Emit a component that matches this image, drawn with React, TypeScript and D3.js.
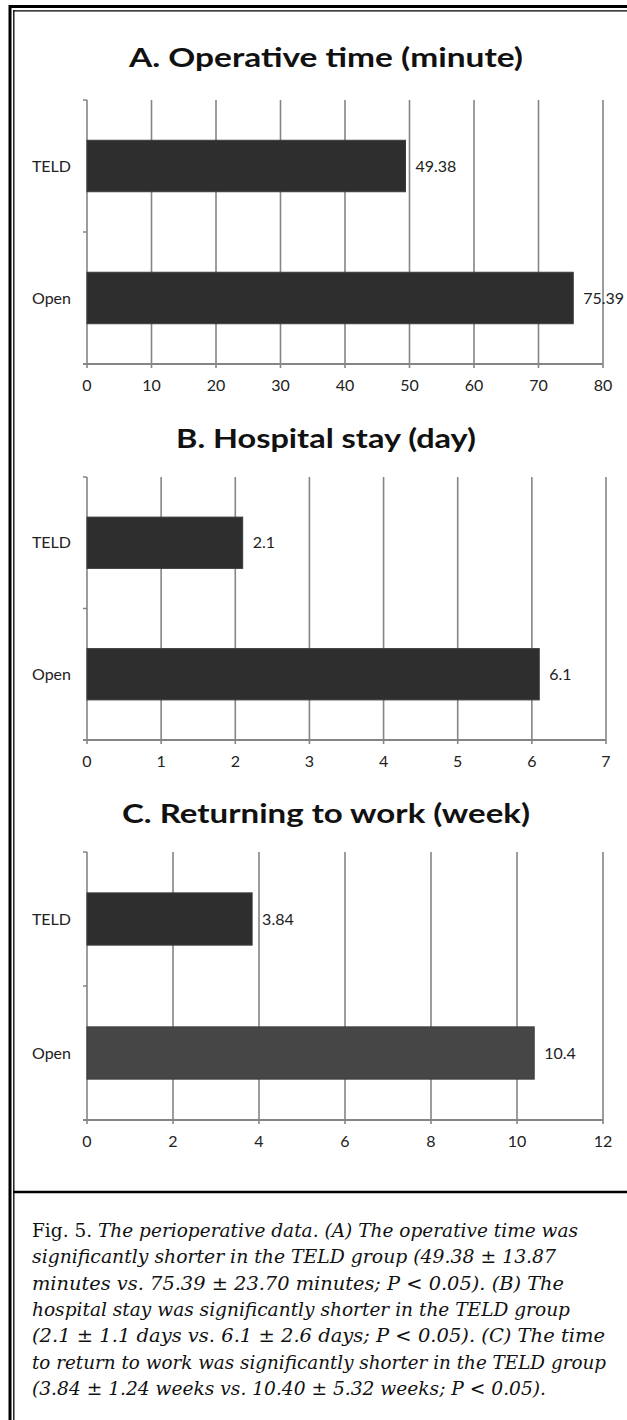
import React from "react";
import * as d3 from "d3";

const groups = ["TELD", "Open"];
const operativeTime = [49.38, 75.39];
const hospitalStay = [2.1, 6.1];
const returnToWork = [3.84, 10.4];
const labelsA = ["49.38", "75.39"];
const labelsB = ["2.1", "6.1"];
const labelsC = ["3.84", "10.4"];
const ticksA = [0, 10, 20, 30, 40, 50, 60, 70, 80];
const ticksB = [0, 1, 2, 3, 4, 5, 6, 7];
const ticksC = [0, 2, 4, 6, 8, 10, 12];
const titles = ["A. Operative time (minute)", "B. Hospital stay (day)", "C. Returning to work (week)"];

const captionLines = [
  "The perioperative data. (A) The operative time was",
  "significantly shorter in the TELD group (49.38 ± 13.87",
  "minutes vs. 75.39 ± 23.70 minutes; P < 0.05). (B) The",
  "hospital stay was significantly shorter in the TELD group",
  "(2.1 ± 1.1 days vs. 6.1 ± 2.6 days; P < 0.05). (C) The time",
  "to return to work was significantly shorter in the TELD group",
  "(3.84 ± 1.24 weeks vs. 10.40 ± 5.32 weeks; P < 0.05).",
];
const captionWidths = [546, 524, 532, 538, 573, 574, 514];

const panels = [
  { title: titles[0], values: operativeTime, labels: labelsA, ticks: ticksA, top: 100, bottom: 364, x0: 87, x1: 603, titleY: 67, titleW: 394, fills: ["#2e2e2e", "#2e2e2e"] },
  { title: titles[1], values: hospitalStay, labels: labelsB, ticks: ticksB, top: 477, bottom: 740, x0: 87, x1: 606, titleY: 448, titleW: 300, fills: ["#2e2e2e", "#2e2e2e"] },
  { title: titles[2], values: returnToWork, labels: labelsC, ticks: ticksC, top: 852, bottom: 1120, x0: 87, x1: 603, titleY: 823, titleW: 408, fills: ["#2e2e2e", "#464646"] },
];

const SANS = "Lato, 'Open Sans', sans-serif";
const SERIF = "'DejaVu Serif', 'Liberation Serif', serif";

function Panel({ p }: { p: typeof panels[number] }) {
  const x = d3.scaleLinear().domain([0, p.ticks[p.ticks.length - 1]]).range([p.x0, p.x1]);
  const y = d3.scaleBand<string>().domain(groups).range([p.top, p.bottom]).paddingInner(0).paddingOuter(0);
  const bh = y.bandwidth() * 0.39;
  const grid = "#858585";
  return (
    <g>
      <text x={326} y={p.titleY} textAnchor="middle" fontFamily={SANS} fontWeight={700} fontSize={27} fill="#111" textLength={p.titleW} lengthAdjust="spacingAndGlyphs">{p.title}</text>
      {p.ticks.map((t) => (
        <g key={t}>
          <line x1={x(t)} x2={x(t)} y1={p.top} y2={p.bottom + 4} stroke={grid} strokeWidth={1.6} />
          <text x={x(t)} y={p.bottom + 21} dy="0.35em" textAnchor="middle" fontFamily={SANS} fontSize={16} fill="#222">{t}</text>
        </g>
      ))}
      <line x1={p.x0 - 4} x2={p.x1} y1={p.bottom} y2={p.bottom} stroke={grid} strokeWidth={2} />
      {[p.top, (p.top + p.bottom) / 2].map((ty, i) => (
        <line key={i} x1={p.x0 - 4} x2={p.x0} y1={ty} y2={ty} stroke={grid} strokeWidth={1.5} />
      ))}
      {groups.map((g, i) => {
        const cy = (y(g) as number) + y.bandwidth() / 2;
        return (
          <g key={g}>
            <rect x={x(0)} y={cy - bh / 2} width={x(p.values[i]) - x(0)} height={bh} fill={p.fills[i]} stroke="#3c3c3c" strokeWidth={1} />
            <text x={71} y={cy} dy="0.35em" textAnchor="end" fontFamily={SANS} fontSize={16} fill="#222">{g}</text>
            <text x={x(p.values[i]) + 10} y={cy} dy="0.35em" fontFamily={SANS} fontSize={16} fill="#222">{p.labels[i]}</text>
          </g>
        );
      })}
    </g>
  );
}

export default function App() {
  return (
    <>
      <style>{"body{margin:0}"}</style>
      <svg width={627} height={1420} style={{ display: "block", background: "#fff" }}>
        <rect x={0} y={0} width={627} height={1420} fill="#fff" />
        <line x1={10} x2={627} y1={6.5} y2={6.5} stroke="#000" strokeWidth={3} />
        <line x1={13.5} x2={627} y1={10.8} y2={10.8} stroke="#000" strokeWidth={1.3} />
        <line x1={10} x2={10} y1={5} y2={1420} stroke="#000" strokeWidth={3} />
        <line x1={13.8} x2={13.8} y1={10} y2={1420} stroke="#000" strokeWidth={1.3} />
        <line x1={13} x2={627} y1={1192} y2={1192} stroke="#000" strokeWidth={2.5} />
        {panels.map((p, i) => (
          <Panel key={i} p={p} />
        ))}
        <g fontFamily={SERIF} fontSize={18} fill="#111">
          {captionLines.map((l, i) => (
            <text key={i} x={32} y={1237 + i * 26.3} textLength={captionWidths[i]} lengthAdjust="spacingAndGlyphs">
              {i === 0 ? <tspan fontStyle="normal">Fig. 5. </tspan> : null}
              <tspan fontStyle="italic">{l}</tspan>
            </text>
          ))}
        </g>
      </svg>
    </>
  );
}
